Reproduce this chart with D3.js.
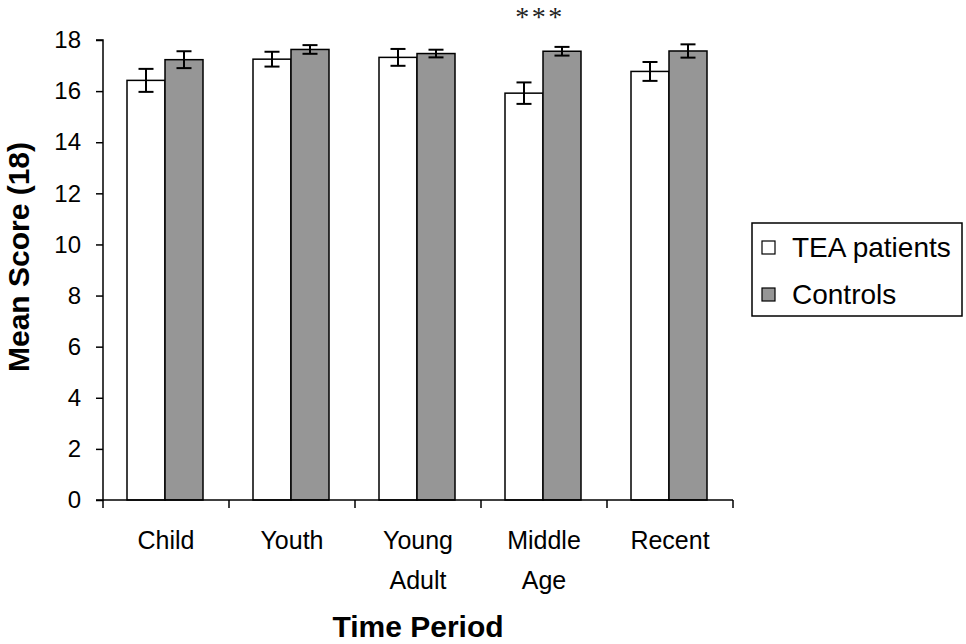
<!DOCTYPE html>
<html>
<head>
<meta charset="utf-8">
<script src="https://cdn.jsdelivr.net/npm/d3@7"></script>
<style>
  body { margin: 0; background: #fff; }
  svg { display: block; font-family: "Liberation Sans", Arial, sans-serif; }
</style>
</head>
<body>
<svg id="chart" width="966" height="644"></svg>
<script>
// data
const periods = [["Child"], ["Youth"], ["Young", "Adult"], ["Middle", "Age"], ["Recent"]];
const seriesNames = ["TEA patients", "Controls"];
const teaMeans = [16.42, 17.25, 17.32, 15.92, 16.77];
const teaErrors = [0.45, 0.29, 0.33, 0.42, 0.37];
const controlMeans = [17.23, 17.63, 17.47, 17.56, 17.57];
const controlErrors = [0.33, 0.17, 0.15, 0.17, 0.26];
const yTicks = [0, 2, 4, 6, 8, 10, 12, 14, 16, 18];
const significant = ["", "", "", "***", ""];

const colors = ["#ffffff", "#969696"];
const svg = d3.select("#chart");
const margin = { left: 103, right: 233, top: 40, bottom: 144 };
const width = 966 - margin.left - margin.right;
const height = 644 - margin.top - margin.bottom;

const g = svg.append("g").attr("transform", `translate(${margin.left},${margin.top})`);

const keys = periods.map(p => p.join(" "));
const x = d3.scaleBand().domain(keys).range([0, width]);
const xInner = d3.scaleBand().domain(seriesNames).range([24, x.bandwidth() - 26]);
const y = d3.scaleLinear().domain([0, 18]).range([height, 0]);

const rows = keys.map((k, i) => ({
  key: k,
  values: [
    { s: seriesNames[0], v: teaMeans[i], e: teaErrors[i], c: colors[0] },
    { s: seriesNames[1], v: controlMeans[i], e: controlErrors[i], c: colors[1] }
  ]
}));

// bars
const groups = g.selectAll("g.group").data(rows).join("g")
  .attr("class", "group")
  .attr("transform", d => `translate(${x(d.key)},0)`);

groups.selectAll("rect").data(d => d.values).join("rect")
  .attr("x", d => xInner(d.s))
  .attr("y", d => y(d.v))
  .attr("width", xInner.bandwidth())
  .attr("height", d => height - y(d.v))
  .attr("fill", d => d.c)
  .attr("stroke", "#000")
  .attr("stroke-width", 1.5);

// error bars
const err = groups.selectAll("g.err").data(d => d.values).join("g").attr("class", "err")
  .attr("stroke", "#000").attr("stroke-width", 2);
const cx = d => xInner(d.s) + xInner.bandwidth() / 2;
err.append("line").attr("x1", cx).attr("x2", cx).attr("y1", d => y(d.v + d.e)).attr("y2", d => y(d.v - d.e));
err.append("line").attr("x1", d => cx(d) - 7.5).attr("x2", d => cx(d) + 7.5).attr("y1", d => y(d.v + d.e)).attr("y2", d => y(d.v + d.e));
err.append("line").attr("x1", d => cx(d) - 7.5).attr("x2", d => cx(d) + 7.5).attr("y1", d => y(d.v - d.e)).attr("y2", d => y(d.v - d.e));

// y axis
const yAxis = g.append("g")
  .call(d3.axisLeft(y).tickValues(yTicks).tickSize(7).tickPadding(15).tickFormat(d3.format("d")));
yAxis.attr("font-size", 24).attr("font-family", "Liberation Sans, Arial, sans-serif");
yAxis.select(".domain").attr("stroke-width", 1.5).attr("d", `M-7,${height}H0V0H-7`);
yAxis.selectAll(".tick line").attr("stroke-width", 1.5);
yAxis.selectAll(".tick text").attr("fill", "#000");

// x axis with boundary ticks
const xAxis = g.append("g").attr("transform", `translate(0,${height})`);
xAxis.append("line").attr("x1", 0).attr("x2", width).attr("stroke", "#000").attr("stroke-width", 1.5);
xAxis.selectAll("line.tk").data(keys.map(k => x(k)).concat([width])).join("line")
  .attr("class", "tk")
  .attr("x1", d => d).attr("x2", d => d).attr("y1", 0).attr("y2", 8)
  .attr("stroke", "#000").attr("stroke-width", 1.5);

const labels = xAxis.selectAll("text.cat").data(periods).join("text")
  .attr("class", "cat")
  .attr("x", (d, i) => x(keys[i]) + x.bandwidth() / 2)
  .attr("y", 49)
  .attr("text-anchor", "middle")
  .attr("font-size", 25);
labels.selectAll("tspan").data(d => d).join("tspan")
  .attr("x", function () { return this.parentNode.getAttribute("x"); })
  .attr("dy", (d, i) => i === 0 ? 0 : 40)
  .text(d => d);

// significance marks
g.selectAll("text.sig").data(rows).join("text")
  .attr("class", "sig")
  .attr("x", d => x(d.key) + x.bandwidth() / 2 - 4)
  .attr("y", 26 - margin.top)
  .attr("text-anchor", "middle")
  .attr("font-family", "Liberation Serif, Times New Roman, serif")
  .attr("font-size", 28)
  .attr("letter-spacing", 2.5)
  .attr("fill", "#222")
  .text((d, i) => significant[i]);

// axis titles
svg.append("text")
  .attr("transform", "translate(29,257) rotate(-90)")
  .attr("text-anchor", "middle")
  .attr("font-size", 30)
  .attr("font-weight", "bold")
  .text("Mean Score (18)");

svg.append("text")
  .attr("x", margin.left + width / 2)
  .attr("y", 637)
  .attr("text-anchor", "middle")
  .attr("font-size", 30)
  .attr("font-weight", "bold")
  .text("Time Period");

// legend
const legend = svg.append("g").attr("transform", "translate(752,223)");
legend.append("rect").attr("width", 210).attr("height", 93)
  .attr("fill", "#fff").attr("stroke", "#000").attr("stroke-width", 1.5);
const items = legend.selectAll("g.item").data(seriesNames).join("g")
  .attr("class", "item")
  .attr("transform", (d, i) => `translate(10,${34 + i * 47})`);
items.append("rect").attr("y", -16).attr("width", 13).attr("height", 13)
  .attr("fill", (d, i) => colors[i]).attr("stroke", "#000").attr("stroke-width", 1.2);
items.append("text").attr("x", 30).attr("y", 0)
  .attr("font-size", 28).text(d => d);
</script>
</body>
</html>
